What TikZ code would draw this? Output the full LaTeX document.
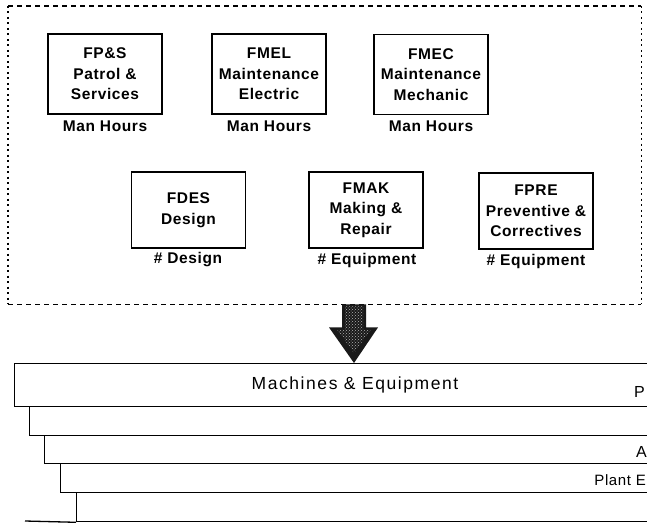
\documentclass[tikz,border=0pt]{standalone}
\usepackage{fontspec}
\setmainfont{Liberation Sans}
\newfontfamily\boxfont[LetterSpace=4]{Liberation Sans}
\newfontfamily\widefont[LetterSpace=9]{Liberation Sans}
\usetikzlibrary{patterns,calc}
\begin{document}
\begin{tikzpicture}[x=1pt,y=-1pt,
  fbox/.style={draw, line width=1.7pt, minimum width=114pt, minimum height=80pt,
    inner sep=0pt, align=center, font=\boxfont\bfseries\fontsize{15.5}{20.5}\selectfont},
  lab/.style={anchor=base, inner sep=0pt, font=\boxfont\bfseries\fontsize{15.5}{20.5}\selectfont},
  layer/.style={draw, line width=1.3pt, anchor=north west, minimum width=700pt, inner sep=0pt},
  rtext/.style={inner sep=0pt, anchor=base west, font=\boxfont\fontsize{16}{19}\selectfont},
  hdash/.style={line width=1.8pt, dash pattern=on 5pt off 4pt},
  vdot/.style={line width=1.8pt, dash pattern=on 2pt off 3.5pt}
]
\useasboundingbox (0,0) rectangle (647,524);
\fill[white] (0,0) rectangle (647,524);

% group frame
\node[minimum width=633pt, minimum height=298pt, inner sep=0pt, anchor=north west] (grp) at (8,6) {};
\draw[hdash] (grp.north west) -- (grp.north east);
\draw[hdash] (grp.south west) -- (grp.south east);
\draw[vdot] (grp.north west) -- (grp.south west);
\draw[vdot] (grp.north east) -- (grp.south east);

% function boxes
\node[fbox] (fps) at (105,74) {FP\&S\\Patrol \&\\Services};
\node[fbox] (fmel) at (269,74) {FMEL\\Maintenance\\Electric};
\node[fbox] (fmec) at (431,74.5) {FMEC\\Maintenance\\Mechanic};
\node[fbox, minimum height=76pt] (fdes) at (188.5,210) {FDES\\Design};
\node[fbox, minimum height=76pt] (fmak) at (366,210) {FMAK\\Making \&\\Repair};
\node[fbox, minimum height=76pt] (fpre) at (536,211) {FPRE\\Preventive \&\\Correctives};

\node[lab] (lfps) at (105,131.5) {Man Hours};
\node[lab] (lfmel) at (269,131.5) {Man Hours};
\node[lab] (lfmec) at (431,131.5) {Man Hours};
\node[lab] (lfdes) at (188,263.5) {\# Design};
\node[lab] (lfmak) at (367,264.5) {\# Equipment};
\node[lab] (lfpre) at (536,265.5) {\# Equipment};

% layers
\begin{scope}
\clip (0,0) rectangle (647,524);
\node[layer, minimum height=43pt] (L1) at (14,363) {};
\node[layer, minimum height=29pt] (L2) at (29,406) {};
\node[layer, minimum height=28pt] (L3) at (44,435) {};
\node[layer, minimum height=29pt] (L4) at (60,463) {};
\node[layer, minimum height=29pt] (L5) at (76,492) {};
\coordinate (base) at (25,521);
\draw[line width=1.3pt] (base) -- (L5.south west);
\node[inner sep=0pt, font=\widefont\fontsize{17.5}{20}\selectfont] (mach) at (355,385) {Machines \& Equipment};
\node[rtext] (tp) at (634,397) {P};
\node[rtext] (ta) at (636,457) {A};
\node[rtext, anchor=base east, font=\boxfont\fontsize{15}{18}\selectfont] (tpe) at (646,485) {Plant E};
\end{scope}

% big arrow
\coordinate (atop) at (grp.south -| 354,0);
\coordinate (atip) at (L1.north -| atop);
\fill[black!90] ($(atop)+(-12,0)$) -- ($(atop)+(12,0)$) -- ($(atop)+(12,23)$) -- ($(atop)+(24,23)$)
  -- (atip) -- ($(atop)+(-25,23)$) -- ($(atop)+(-12,23)$) -- cycle;
\path[pattern=crosshatch dots, pattern color=white!70!black] ($(atop)+(-9,2)$) -- ($(atop)+(9,2)$) -- ($(atop)+(9,25)$) -- ($(atop)+(17,25)$)
  -- ($(atip)+(0,-10)$) -- ($(atop)+(-17,25)$) -- ($(atop)+(-9,25)$) -- cycle;
\end{tikzpicture}
\end{document}
